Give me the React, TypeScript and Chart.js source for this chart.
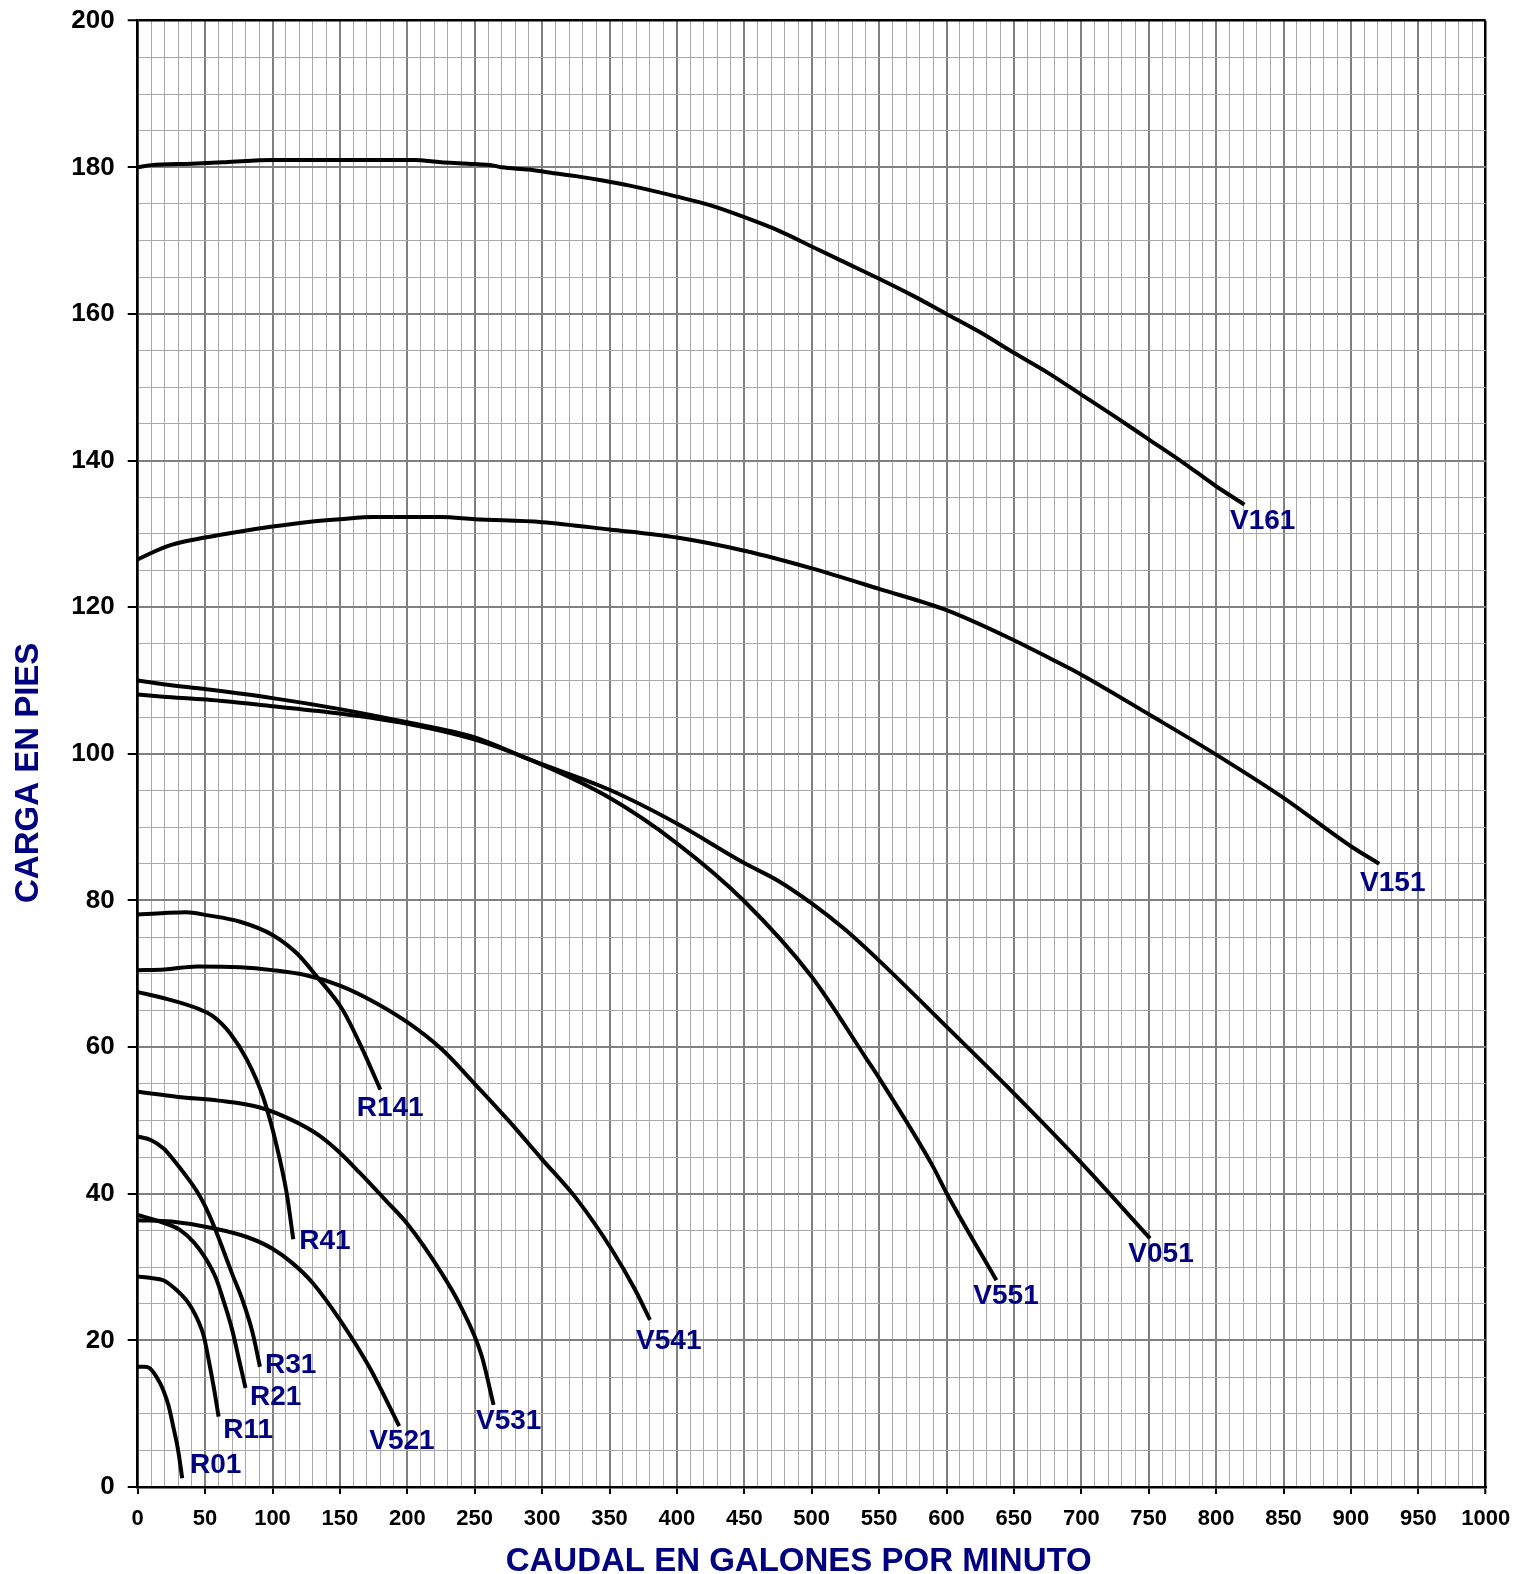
import React, { useEffect, useRef } from 'react';
import { Chart, registerables } from 'chart.js';

Chart.register(...registerables);

const FONT = '"Liberation Sans", Arial, Helvetica, sans-serif';
const NAVY = '#000080';

// Caudal (GPM) and Carga (ft) readings for each pump curve
const V161_Q = [0, 10, 40, 65, 100, 205, 225, 245, 265, 270, 290, 305, 325, 345, 365, 400, 425, 450, 475, 500, 525, 550, 575, 600, 625, 650, 675, 700, 725, 750, 775, 800, 821];
const V161_H = [180, 180.3, 180.5, 180.7, 181, 181, 180.7, 180.5, 180.2, 180, 179.7, 179.3, 178.8, 178.2, 177.5, 176, 174.8, 173.2, 171.4, 169.2, 167, 164.8, 162.5, 160, 157.5, 154.7, 152, 149, 146, 142.9, 139.8, 136.5, 134];

const V151_Q = [0, 10, 25, 50, 75, 100, 125, 150, 175, 200, 225, 250, 300, 350, 400, 450, 500, 550, 600, 650, 677, 700, 751, 800, 850, 900, 921];
const V151_H = [126.5, 127.4, 128.5, 129.5, 130.3, 131, 131.6, 132, 132.3, 132.3, 132.3, 132, 131.6, 130.6, 129.5, 127.7, 125.3, 122.5, 119.6, 115.5, 113, 110.8, 105.3, 99.9, 94, 87.4, 85];

const V051_Q = [0, 19, 51, 100, 150, 200, 249, 291, 350, 400, 450, 475, 500, 525, 550, 600, 650, 700, 751];
const V051_H = [110, 109.5, 108.8, 107.6, 106.1, 104.3, 102.3, 99.2, 95.1, 90.5, 85.1, 82.7, 79.6, 76, 71.8, 62.8, 53.7, 44.2, 33.9];

const V551_Q = [0, 19, 51, 100, 150, 200, 249, 291, 350, 400, 450, 500, 541, 551, 590, 600, 637];
const V551_H = [108.1, 107.8, 107.4, 106.5, 105.5, 104.1, 102, 99.2, 94, 87.8, 79.9, 69.6, 58.3, 55.5, 43.7, 40.1, 28.2];

const V541_Q = [0, 20, 44, 76, 100, 125, 150, 175, 200, 225, 250, 275, 299, 326, 352, 369, 380];
const V541_H = [70.5, 70.6, 71, 70.9, 70.5, 69.8, 68.4, 66.2, 63.4, 59.8, 55, 50, 44.9, 39.2, 32.3, 26.9, 22.8];

const V531_Q = [0, 30, 60, 90, 115, 135, 150, 165, 185, 200, 225, 240, 255, 264];
const V531_H = [53.9, 53.2, 52.7, 51.8, 50, 47.9, 45.6, 42.8, 38.9, 35.9, 29.3, 24.5, 18, 11.2];

const V521_Q = [0, 25, 56, 81, 100, 115, 130, 150, 172, 194];
const V521_H = [36.4, 36.2, 35.3, 34.1, 32.5, 30.5, 27.8, 22.8, 16.3, 8.3];

const R141_Q = [0, 20, 36, 51, 76, 100, 118, 133, 152, 167, 180];
const R141_H = [78.1, 78.3, 78.4, 78, 77.1, 75.3, 72.8, 69.6, 65.1, 59.6, 54.2];

const R41_Q = [0, 19, 44, 56, 68.5, 81, 93, 103, 110.5, 115.4];
const R41_H = [67.5, 66.7, 65.3, 64.2, 61.9, 58.3, 53.2, 46.6, 40.1, 33.8];

const R31_Q = [0, 10, 19, 28, 36, 44, 50, 57, 63.5, 70, 78.3, 85, 90.7];
const R31_H = [47.8, 47.3, 46.2, 44.3, 42.4, 40.3, 38.3, 35.4, 32.3, 29.1, 25.2, 21.2, 16.4];

const R21_Q = [0, 15, 31, 42, 51, 58, 63.5, 70, 75, 80];
const R21_H = [37.1, 36.3, 35.1, 33.3, 31, 28.5, 25.5, 21.5, 17.5, 13.5];

const R11_Q = [0, 10, 19, 28, 36, 40, 45, 49, 53, 57, 60];
const R11_H = [28.7, 28.5, 28.2, 27, 25.5, 24.4, 22.6, 20.6, 17, 13, 9.6];

const R01_Q = [0, 5, 9, 14, 19, 23, 26.4, 30, 33];
const R01_H = [16.4, 16.4, 16.2, 15, 13.2, 11, 8.2, 5, 1.2];

const SERIES_NAMES = ['V161', 'V151', 'V051', 'V551', 'V541', 'V531', 'V521', 'R141', 'R41', 'R31', 'R21', 'R11', 'R01'];
const SERIES_Q = [V161_Q, V151_Q, V051_Q, V551_Q, V541_Q, V531_Q, V521_Q, R141_Q, R41_Q, R31_Q, R21_Q, R11_Q, R01_Q];
const SERIES_H = [V161_H, V151_H, V051_H, V551_H, V541_H, V531_H, V521_H, R141_H, R41_H, R31_H, R21_H, R11_H, R01_H];

// Where each curve's name is written (data coordinates: left edge, vertical centre)
const LABEL_Q = [810.3, 906.8, 734.9, 619.9, 369.7, 251, 171.8, 162.5, 119.9, 94.4, 83.3, 63.5, 38.8];
const LABEL_H = [131.7, 82.4, 31.7, 26.0, 19.9, 9.0, 6.2, 51.7, 33.5, 16.6, 12.3, 7.8, 2.9];

const X_MIN = 0, X_MAX = 1000, X_MINOR = 10, X_MAJOR = 50;
const Y_MIN = 0, Y_MAX = 200, Y_MINOR = 5, Y_MAJOR = 20;

const X_TITLE = 'CAUDAL EN GALONES POR MINUTO';
const Y_TITLE = 'CARGA EN PIES';

function tickList(min: number, max: number, step: number) {
  const out: { value: number }[] = [];
  for (let v = min; v <= max + 1e-9; v += step) out.push({ value: Math.round(v * 1000) / 1000 });
  return out;
}

const curveLabelPlugin = {
  id: 'curveLabels',
  afterDatasetsDraw(chart: any) {
    const { ctx, scales } = chart;
    const xs = scales.x, ys = scales.y;
    ctx.save();
    ctx.font = `bold 28px ${FONT}`;
    ctx.fillStyle = NAVY;
    ctx.textAlign = 'left';
    ctx.textBaseline = 'middle';
    SERIES_NAMES.forEach((name, i) => {
      ctx.fillText(name, xs.getPixelForValue(LABEL_Q[i]), ys.getPixelForValue(LABEL_H[i]));
    });
    ctx.restore();
  },
};

const axisTitlePlugin = {
  id: 'axisTitles',
  afterDraw(chart: any) {
    const { ctx, chartArea } = chart;
    ctx.save();
    ctx.font = `bold 33px ${FONT}`;
    ctx.fillStyle = NAVY;
    ctx.textAlign = 'center';
    ctx.textBaseline = 'alphabetic';
    // x title, below the tick labels
    ctx.fillText(X_TITLE, (chartArea.left + chartArea.right) / 2 - 13, chart.height - 3);
    // y title, rotated, left of the tick labels
    ctx.translate(37.5, (chartArea.top + chartArea.bottom) / 2 + 19);
    ctx.rotate(-Math.PI / 2);
    ctx.fillText(Y_TITLE, 0, 0);
    ctx.restore();
  },
};

export default function App() {
  const canvasRef = useRef<HTMLCanvasElement | null>(null);

  useEffect(() => {
    const canvas = canvasRef.current;
    if (!canvas) return;

    const datasets = SERIES_NAMES.map((name, i) => ({
      label: name,
      data: SERIES_Q[i].map((q, j) => ({ x: q, y: SERIES_H[i][j] })),
      borderColor: '#000000',
      backgroundColor: '#000000',
      borderWidth: 4,
      pointRadius: 0,
      fill: false,
      cubicInterpolationMode: 'monotone' as const,
    }));

    const gridColor = (major: number, max: number) => (c: any) => {
      const v = c.tick ? c.tick.value : 0;
      if (v === max) return '#000000';
      return v % major === 0 ? '#808080' : '#a9a9a9';
    };
    const gridWidth = (major: number, max: number) => (c: any) => {
      const v = c.tick ? c.tick.value : 0;
      if (v === max) return 2.5;
      return v % major === 0 ? 2 : 1;
    };
    const tickCol = (major: number) => (c: any) => {
      const v = c.tick ? c.tick.value : 0;
      return v % major === 0 ? '#000000' : 'rgba(0,0,0,0)';
    };

    const chart = new Chart(canvas, {
      type: 'line',
      data: { datasets },
      plugins: [curveLabelPlugin, axisTitlePlugin],
      options: {
        animation: false,
        responsive: false,
        maintainAspectRatio: false,
        layout: { padding: { left: 0, top: 20.7, right: 41.3, bottom: 0 } },
        plugins: {
          legend: { display: false },
          tooltip: { enabled: false },
        },
        scales: {
          x: {
            type: 'linear',
            position: 'bottom',
            min: X_MIN,
            max: X_MAX,
            afterBuildTicks: (s: any) => { s.ticks = tickList(X_MIN, X_MAX, X_MINOR); },
            afterFit: (s: any) => { s.height = 87; s.paddingLeft = 0; s.paddingRight = 0; },
            ticks: {
              autoSkip: false,
              maxRotation: 0,
              minRotation: 0,
              padding: 12,
              color: '#000000',
              font: { family: FONT, size: 22, weight: 'bold' },
              callback: (v: any) => (Number(v) % X_MAJOR === 0 ? String(v) : ''),
            },
            grid: {
              color: gridColor(X_MAJOR, X_MAX),
              lineWidth: gridWidth(X_MAJOR, X_MAX),
              tickLength: 7,
              tickColor: tickCol(X_MAJOR),
              tickWidth: 2,
            },
            border: { color: '#000000', width: 2.5 },
            title: { display: false, text: X_TITLE },
          },
          y: {
            type: 'linear',
            position: 'left',
            min: Y_MIN,
            max: Y_MAX,
            afterBuildTicks: (s: any) => { s.ticks = tickList(Y_MIN, Y_MAX, Y_MINOR); },
            afterFit: (s: any) => { s.width = 137.7; s.paddingTop = 0; s.paddingBottom = 0; },
            ticks: {
              autoSkip: false,
              padding: 13,
              color: '#000000',
              font: { family: FONT, size: 26, weight: 'bold' },
              callback: (v: any) => (Number(v) % Y_MAJOR === 0 ? String(v) : ''),
            },
            grid: {
              color: gridColor(Y_MAJOR, Y_MAX),
              lineWidth: gridWidth(Y_MAJOR, Y_MAX),
              tickLength: 10,
              tickColor: tickCol(Y_MAJOR),
              tickWidth: 2,
            },
            border: { color: '#000000', width: 2.5 },
            title: { display: false, text: Y_TITLE },
          },
        },
      } as any,
    });

    return () => chart.destroy();
  }, []);

  return (
    <div style={{ position: 'absolute', left: 0, top: 0, width: 1527, height: 1574, background: '#ffffff' }}>
      <canvas ref={canvasRef} width={1527} height={1574} style={{ display: 'block', width: 1527, height: 1574 }} />
    </div>
  );
}
